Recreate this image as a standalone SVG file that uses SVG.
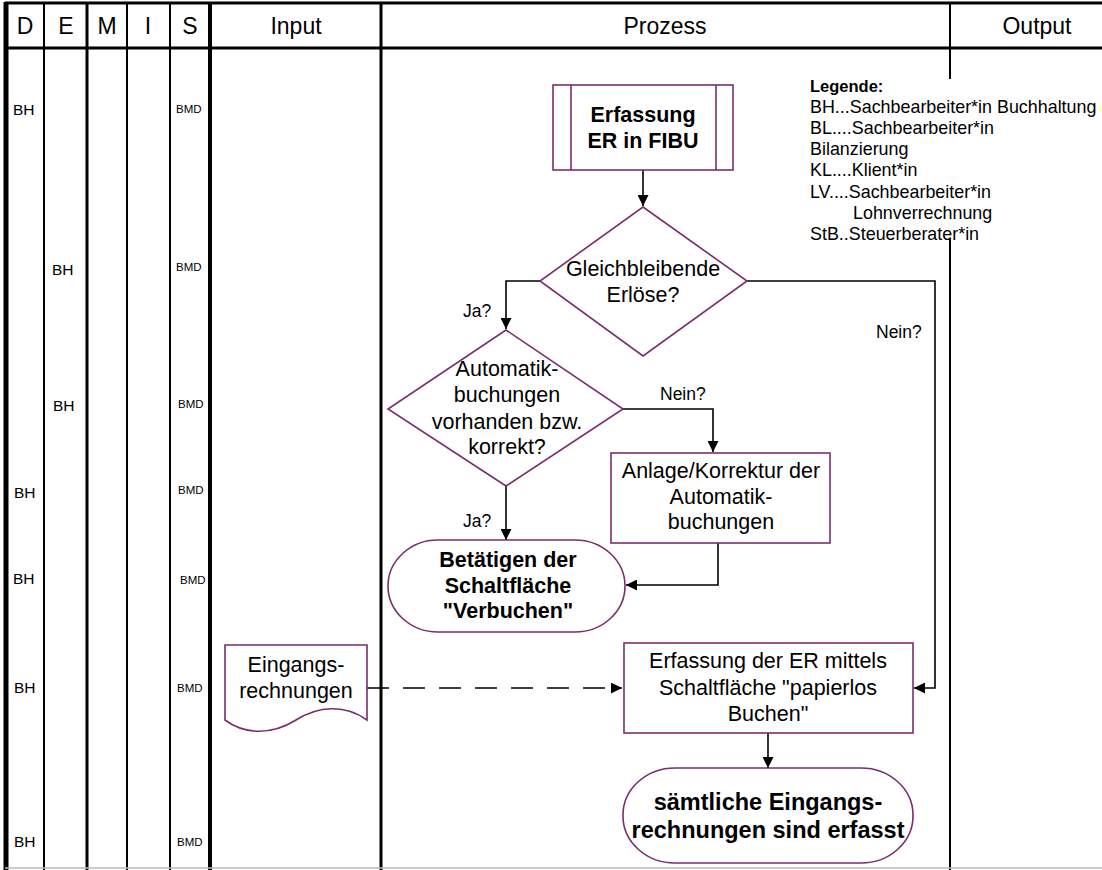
<svg xmlns="http://www.w3.org/2000/svg" width="1102" height="870" viewBox="0 0 1102 870">
  <style>
    .t { font-family: "Liberation Sans", Arial, sans-serif; fill: #000; }
    .c { text-anchor: middle; }
    .hd { font-size: 23px; }
    .body { font-size: 21.5px; }
    .bold { font-weight: bold; }
    .big { font-size: 23.5px; font-weight: bold; }
    .lbl { font-size: 17.5px; }
    .leg { font-size: 17.9px; }
    .role { font-size: 15.5px; }
    .sys { font-size: 11.5px; }
    .node { fill: #fff; stroke: #7B2C6F; stroke-width: 1.6; }
    .grid { stroke: #000; fill: none; }
    .conn { stroke: #000; stroke-width: 1.6; fill: none; marker-end: url(#arr); }
    .dash { stroke-dasharray: 22 14; }
  </style>
  <defs>
    <marker id="arr" markerWidth="11" markerHeight="11" refX="11" refY="5.5" orient="auto" markerUnits="userSpaceOnUse">
      <path d="M0,0 L11,5.5 L0,11 z" fill="#000"/>
    </marker>
  </defs>

  <rect x="0" y="0" width="1102" height="870" fill="#fff"/>

  <!-- swimlane grid -->
  <g id="grid">
    <line class="grid" x1="5" y1="3" x2="1102" y2="3" stroke-width="3"/>
    <line class="grid" x1="5" y1="48" x2="1102" y2="48" stroke-width="3"/>
    <line class="grid" x1="6" y1="2" x2="6" y2="870" stroke-width="5"/>
    <line class="grid" x1="44" y1="3" x2="44" y2="870" stroke-width="2"/>
    <line class="grid" x1="87" y1="3" x2="87" y2="870" stroke-width="3"/>
    <line class="grid" x1="127" y1="3" x2="127" y2="870" stroke-width="2" stroke="#222"/>
    <line class="grid" x1="170" y1="3" x2="170" y2="870" stroke-width="2"/>
    <line class="grid" x1="210" y1="3" x2="210" y2="870" stroke-width="4"/>
    <line class="grid" x1="381" y1="3" x2="381" y2="870" stroke-width="3"/>
    <line class="grid" x1="950" y1="3" x2="950" y2="79" stroke-width="2"/>
    <line class="grid" x1="950" y1="238" x2="950" y2="870" stroke-width="2"/>
    <line x1="5" y1="868" x2="1102" y2="868" stroke="#bbb" stroke-width="1.5"/>
  </g>

  <!-- column headers -->
  <g id="headers" class="t hd c">
    <text x="25" y="34">D</text>
    <text x="66" y="34">E</text>
    <text x="107" y="34">M</text>
    <text x="148" y="34">I</text>
    <text x="190" y="34">S</text>
    <text x="296" y="34">Input</text>
    <text x="665" y="34">Prozess</text>
    <text x="1037" y="34">Output</text>
  </g>

  <!-- responsibilities and systems per step -->
  <g id="roles" class="t role">
    <text x="13" y="115">BH</text>
    <text x="52" y="275">BH</text>
    <text x="53" y="411">BH</text>
    <text x="14" y="498">BH</text>
    <text x="13" y="584">BH</text>
    <text x="14" y="693">BH</text>
    <text x="14" y="847">BH</text>
  </g>
  <g id="systems" class="t sys">
    <text x="176" y="113">BMD</text>
    <text x="176" y="271">BMD</text>
    <text x="178" y="408">BMD</text>
    <text x="178" y="494">BMD</text>
    <text x="180" y="584">BMD</text>
    <text x="177" y="692">BMD</text>
    <text x="177" y="846">BMD</text>
  </g>

  <!-- legend -->
  <g id="legend" class="t leg">
    <text x="810" y="92" class="bold" style="font-size:16.5px">Legende:</text>
    <text x="810" y="113">BH...Sachbearbeiter*in Buchhaltung</text>
    <text x="810" y="134">BL....Sachbearbeiter*in</text>
    <text x="810" y="155">Bilanzierung</text>
    <text x="810" y="176">KL....Klient*in</text>
    <text x="810" y="198">LV....Sachbearbeiter*in</text>
    <text x="853" y="219">Lohnverrechnung</text>
    <text x="810" y="240">StB..Steuerberater*in</text>
  </g>

  <!-- connectors -->
  <g id="connectors">
    <path class="conn" d="M643,170 V206"/>
    <path class="conn" d="M540,281 H506 V329"/>
    <path class="conn" d="M747,281 H935 V688 H914"/>
    <path class="conn" d="M623,409 H713 V452"/>
    <path class="conn" d="M506,486 V540"/>
    <path class="conn" d="M718,543 V585 H626"/>
    <path class="conn dash" d="M367,688 H622"/>
    <path class="conn" d="M768,733 V768"/>
    <g class="t lbl">
      <text x="463" y="317">Ja?</text>
      <text x="660" y="400">Nein?</text>
      <text x="463" y="527">Ja?</text>
      <text x="876" y="338">Nein?</text>
    </g>
  </g>

  <!-- process nodes -->
  <g id="start">
    <rect class="node" x="553" y="85" width="180" height="85"/>
    <line class="node" x1="571" y1="85" x2="571" y2="170"/>
    <line class="node" x1="716" y1="85" x2="716" y2="170"/>
    <text class="t body bold c" x="643" y="122">Erfassung</text>
    <text class="t body bold c" x="643" y="148">ER in FIBU</text>
  </g>

  <g id="decision-erloese">
    <polygon class="node" points="643,207 747,281 643,356 540,281"/>
    <text class="t body c" x="643" y="276">Gleichbleibende</text>
    <text class="t body c" x="643" y="302">Erlöse?</text>
  </g>

  <g id="decision-automatik">
    <polygon class="node" points="506,330 623,409 506,486 388,409"/>
    <text class="t body c" x="507" y="376">Automatik-</text>
    <text class="t body c" x="507" y="402">buchungen</text>
    <text class="t body c" x="507" y="429">vorhanden bzw.</text>
    <text class="t body c" x="507" y="454">korrekt?</text>
  </g>

  <g id="anlage">
    <rect class="node" x="611" y="453" width="219" height="90"/>
    <text class="t body c" x="721" y="478">Anlage/Korrektur der</text>
    <text class="t body c" x="721" y="504">Automatik-</text>
    <text class="t body c" x="721" y="529">buchungen</text>
  </g>

  <g id="verbuchen">
    <rect class="node" x="388" y="540" width="237" height="92" rx="50" ry="46"/>
    <text class="t body bold c" x="508" y="567">Betätigen der</text>
    <text class="t body bold c" x="508" y="593">Schaltfläche</text>
    <text class="t body bold c" x="508" y="618">"Verbuchen"</text>
  </g>

  <g id="eingangsrechnungen">
    <path class="node" d="M225,645 H367 V720 C345,704 318,706 296,720 C272,735 245,735 225,720 Z"/>
    <text class="t body c" x="296" y="672">Eingangs-</text>
    <text class="t body c" x="296" y="698">rechnungen</text>
  </g>

  <g id="papierlos">
    <rect class="node" x="624" y="643" width="289" height="90"/>
    <text class="t body c" x="768" y="668">Erfassung der ER mittels</text>
    <text class="t body c" x="768" y="695">Schaltfläche "papierlos</text>
    <text class="t body c" x="768" y="721">Buchen"</text>
  </g>

  <g id="ende">
    <rect class="node" x="623" y="768" width="290" height="95" rx="52" ry="47"/>
    <text class="t big c" x="768" y="810">sämtliche Eingangs-</text>
    <text class="t big c" x="768" y="838">rechnungen sind erfasst</text>
  </g>
</svg>
